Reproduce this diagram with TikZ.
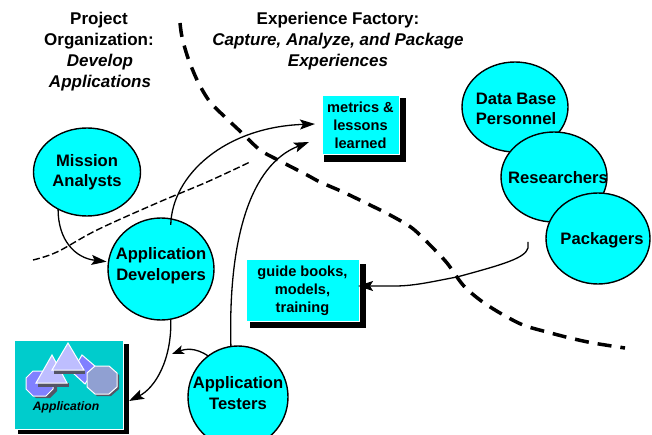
\documentclass[tikz,border=0pt]{standalone}
\usepackage{fontspec}
\setmainfont{Liberation Sans}
\usetikzlibrary{arrows.meta,shapes.geometric}
\definecolor{blob}{HTML}{00FFFF}
\definecolor{teal}{HTML}{00CCCC}
\definecolor{peri}{HTML}{8080FF}
\definecolor{lav}{HTML}{BEBEFF}
\definecolor{steel}{HTML}{90A0D2}
\definecolor{shad}{HTML}{555566}
\tikzset{
  blobnode/.style={ellipse,draw=black,line width=1.4pt,fill=blob,inner sep=0pt,outer sep=0pt,minimum width=#1},
  blobtext/.style={font=\fontsize{16.6}{20.5}\selectfont\bfseries,align=center,inner sep=0pt},
  boxnode/.style={draw=white,line width=1pt,fill=blob,inner sep=0pt,outer sep=0pt,font=\fontsize{14.6}{18}\selectfont\bfseries,align=center},
  titletext/.style={font=\fontsize{17}{21}\selectfont\bfseries,align=center,inner sep=0pt},
  flow/.style={draw=black,line width=1.3pt,-{Stealth[length=15pt,width=10pt,inset=3pt]}},
  iconline/.style={draw=white,line width=1pt,line join=miter},
  border/.style={draw=black,line width=3.5pt,dash pattern=on 14pt off 9pt},
  org/.style={draw=black,line width=1.4pt,dash pattern=on 7pt off 3pt},
}
\begin{document}
\begin{tikzpicture}[x=1pt,y=-1pt]
\useasboundingbox (0,0) rectangle (652,435);
\clip (0,0) rectangle (652,435);
\fill[white] (0,0) rectangle (652,435);
% titles
\node[titletext] (ttl1) at (99,30.5) {Project\\Organization:};
\node[titletext] (ttl2) at (100,72.5) {\itshape Develop\\\itshape Applications};
\node[titletext] (ttl3) at (338,41) {Experience Factory:\\\itshape Capture, Analyze, and Package\\\itshape Experiences};
% boundaries
\draw[border] plot[smooth,tension=0.5] coordinates {(180,23) (182,37) (188,58) (198,82) (210,102) (225,117) (242,133) (260,150) (278,160) (307,175) (320,182) (343,192) (370,205) (390,215) (412,228) (430,245) (447,263) (463,285) (480,300) (500,313) (523,325) (547,332) (570,338) (593,343) (625,348)};
\draw[org] plot[smooth,tension=0.6] coordinates {(33,260) (57,252) (97,230) (157,203) (207,182) (250,162)};
% shadows
\fill[black] (324,98) rectangle (406,162);
\fill[black] (250,264) rectangle (366,328);
\fill[black] (18,344) rectangle (129,434);
% boxes
\node[boxnode,minimum width=77pt,minimum height=59pt] (metrics) at (360.5,125.5) {metrics \&\\lessons\\learned};
\node[boxnode,minimum width=113pt,minimum height=61pt] (guide) at (302.5,290.5) {guide books,\\models,\\training};
\node[draw=white,line width=1pt,fill=teal,minimum width=109pt,minimum height=89pt,inner sep=0pt,outer sep=0pt] (appbox) at (68.5,384.5) {};
% icon
\fill[shad] (36,373) -- (50,373) -- (57,380) -- (57,391) -- (50,398) -- (36,398) -- (29,391) -- (29,380) -- cycle;
\fill[peri,iconline] (33,371) -- (46,371) -- (53,378) -- (53,389) -- (46,396) -- (33,396) -- (26,389) -- (26,378) -- cycle;
\fill[shad] (38,383) -- (69,383) -- (69,387) -- (38,387) -- cycle;
\fill[peri,iconline] (82,355) -- (96,367) -- (85,384) -- (72,372) -- cycle;
\fill[lav,iconline] (52,355) -- (67,383) -- (36,383) -- cycle;
\fill[shad] (54,370) -- (85,370) -- (85,374) -- (54,374) -- cycle;
\fill[lav,iconline] (68,343) -- (84,370) -- (52,370) -- cycle;
\fill[shad] (97,368) -- (111,368) -- (119,375) -- (119,389) -- (111,396) -- (97,396) -- (89,389) -- (89,375) -- cycle;
\fill[steel,iconline] (95,366) -- (109,366) -- (117,373) -- (117,387) -- (109,394) -- (95,394) -- (87,387) -- (87,373) -- cycle;
\node[font=\fontsize{12.2}{14}\selectfont\bfseries\itshape,inner sep=0pt] (applbl) at (66,407) {Application};
% ellipses
\node[blobnode=107pt,minimum height=88pt] (mission) at (87,172) {};
\node[blobtext] (missiontxt) at (87,172) {Mission\\Analysts};
\node[blobnode=106pt,minimum height=102pt] (appdev) at (161,269) {};
\node[blobtext] (appdevtxt) at (161,265.5) {Application\\Developers};
\node[blobnode=100pt,minimum height=102pt] (testers) at (238,397) {};
\node[blobtext] (testerstxt) at (238,393) {Application\\Testers};
\node[blobnode=106pt,minimum height=90pt] (database) at (515,107) {};
\node[blobtext] (databasetxt) at (516,109) {Data Base\\Personnel};
\node[blobnode=106pt,minimum height=90pt] (research) at (554,177) {};
\node[blobtext] (researchtxt) at (558,178) {Researchers};
\node[blobnode=104pt,minimum height=91pt] (pack) at (598,238.5) {};
\node[blobtext] (packtxt) at (602,240) {Packagers};
% connectors
\coordinate (a5end) at (172,354);
\draw[flow] (mission.232.6) .. controls (58,240) and (75,258) .. ([shift={(-2,0)}]appdev.172);
\draw[flow] ([shift={(0,6)}]appdev.79) .. controls (172,175) and (225,127) .. ([shift={(-7,-1.5)}]metrics.west);
\draw[flow] (appdev.281) .. controls (172,360) and (155,388) .. ([shift={(6,16.5)}]appbox.east);
\draw[flow] (testers.98.7) .. controls (228,240) and (250,165) .. ([shift={(-13,16.5)}]metrics.west);
\draw[flow,-{Stealth[length=12pt,width=9pt,inset=3pt]}] (testers.126.7) .. controls (195,347) and (185,349) .. (a5end);
\draw[flow] ([shift={(-18,3.5)}]pack.west) -- ++(0,6) .. controls (525,258) and (505,264) .. (457,277) .. controls (435,281) and (415,286) .. (395,286) -- ([shift={(-1,-4.5)}]guide.east);
\end{tikzpicture}
\end{document}
